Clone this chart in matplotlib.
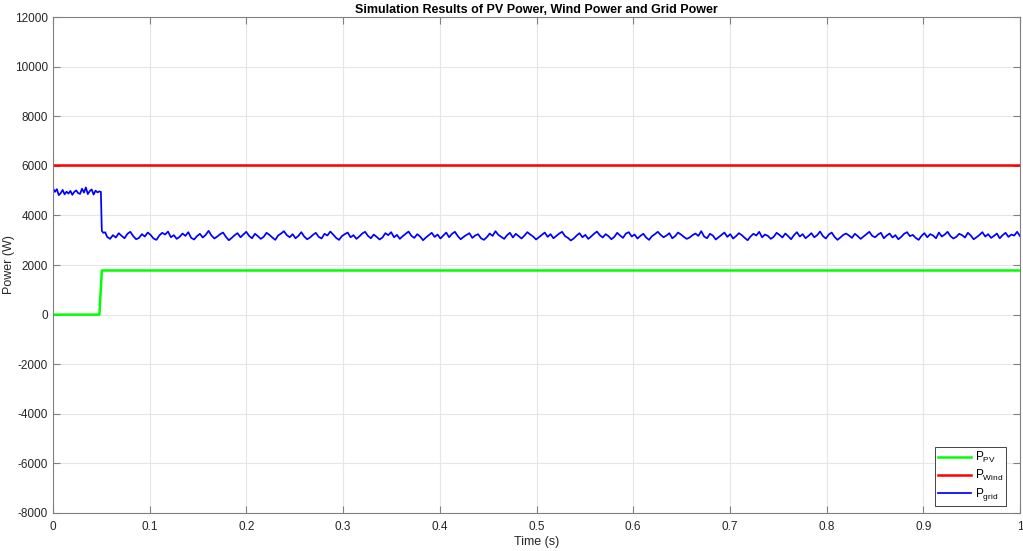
import matplotlib
matplotlib.use('Agg')
import matplotlib.pyplot as plt
import numpy as np

plt.rcParams['font.family'] = ['Liberation Sans', 'DejaVu Sans']
plt.rcParams['axes.unicode_minus'] = False

# PV power: off until ~0.048 s, then step up
pv_t = [0.0, 0.048, 0.0505, 1.0]
pv_p = [0, 0, 1780, 1780]

# wind power constant
wind_t = [0.0, 1.0]
wind_p = [6030, 6030]

# grid power before the PV step (every 2 ms)
grid_pre = [5100, 4950, 5060, 4820, 4900, 5030, 4850, 4960, 4880, 4990,
            4830, 4950, 5010, 4900, 4870, 5080, 4920, 5130, 4860, 4980,
            5050, 4840, 5000, 4930, 4970]
# transition right after the step
grid_step_t = [0.0495, 0.0505, 0.052, 0.054]
grid_step = [4950, 3380, 3300, 3320]
# after the step (0.056 s .. 1 s, evenly spaced)
grid_post = [3135, 3055, 3205, 3110, 3285, 3175, 3080, 3260, 3340, 3165,
             3040, 3095, 3245, 3150, 3310, 3215, 3070, 3015, 3190, 3300,
             3230, 3350, 3120, 3205, 3055, 3135, 3270, 3175, 3325, 3095,
             3030, 3165, 3260, 3110, 3215, 3380, 3190, 3070, 3150, 3245,
             3310, 3135, 3000, 3095, 3205, 3285, 3120, 3230, 3340, 3175,
             3080, 3260, 3165, 3055, 3135, 3300, 3215, 3110, 3015, 3190,
             3270, 3365, 3205, 3120, 3245, 3080, 3175, 3325, 3150, 3040,
             3110, 3215, 3300, 3135, 3070, 3260, 3190, 3350, 3230, 3095,
             3015, 3165, 3245, 3310, 3120, 3205, 3055, 3150, 3270, 3340,
             3175, 3080, 3230, 3135, 3030, 3110, 3285, 3205, 3325, 3120,
             3215, 3055, 3165, 3260, 3350, 3175, 3095, 3245, 3150, 3000,
             3110, 3205, 3300, 3135, 3230, 3070, 3190, 3310, 3120, 3260,
             3340, 3165, 3040, 3135, 3215, 3285, 3095, 3190, 3245, 3080,
             3015, 3120, 3270, 3175, 3365, 3215, 3135, 3055, 3205, 3300,
             3110, 3260, 3165, 3070, 3190, 3325, 3230, 3150, 3030, 3120,
             3215, 3310, 3135, 3245, 3080, 3175, 3270, 3340, 3165, 3095,
             2990, 3070, 3190, 3285, 3120, 3215, 3055, 3150, 3260, 3350,
             3205, 3110, 3245, 3165, 3040, 3135, 3300, 3190, 3095, 3270,
             3325, 3150, 3230, 3070, 3175, 3260, 3110, 3015, 3165, 3245,
             3340, 3215, 3120, 3190, 3285, 3080, 3165, 3310, 3230, 3135,
             3055, 3110, 3205, 3270, 3175, 3365, 3150, 3080, 3260, 3190,
             3030, 3120, 3215, 3310, 3135, 3245, 3070, 3165, 3285, 3205,
             3095, 3000, 3150, 3260, 3190, 3340, 3120, 3230, 3175, 3055,
             3135, 3300, 3215, 3110, 3270, 3165, 3040, 3205, 3325, 3150,
             3245, 3080, 3175, 3285, 3120, 3205, 3350, 3165, 3070, 3230,
             3310, 3135, 3015, 3110, 3215, 3270, 3190, 3095, 3260, 3165,
             3055, 3150, 3245, 3340, 3175, 3120, 3230, 3300, 3080, 3190,
             3270, 3110, 3205, 3040, 3135, 3260, 3325, 3165, 3215, 3095,
             3015, 3175, 3285, 3120, 3245, 3190, 3080, 3310, 3150, 3230,
             3340, 3165, 3070, 3135, 3260, 3205, 3110, 3300, 3190, 3040,
             3120, 3215, 3325, 3150, 3245, 3095, 3175, 3270, 3080, 3205,
             3300, 3135, 3230, 3190, 3340, 3165]

xticks = [0, 0.1, 0.2, 0.3, 0.4, 0.5, 0.6, 0.7, 0.8, 0.9, 1]
xticklabels = ['0', '0.1', '0.2', '0.3', '0.4', '0.5', '0.6', '0.7', '0.8', '0.9', '1']
yticks = list(range(-8000, 12001, 2000))


def render():
    t_pre = np.arange(len(grid_pre)) * 0.002
    t_post = np.linspace(0.056, 1.0, len(grid_post))
    grid_t = np.concatenate([t_pre, grid_step_t, t_post])
    grid_p = np.concatenate([grid_pre, grid_step, grid_post])

    fig = plt.figure(figsize=(10.23, 5.51), dpi=100)
    ax = fig.add_axes([0.0518, 0.069, 0.9453, 0.900])

    ax.plot(pv_t, pv_p, color='#00ff00', lw=1.8, label=r'$\mathregular{P_{PV}}$')
    ax.plot(wind_t, wind_p, color='#ff0000', lw=1.8, label=r'$\mathregular{P_{Wind}}$')
    ax.plot(grid_t, grid_p, color='#0000ff', lw=1.25, label=r'$\mathregular{P_{grid}}$')

    ax.set_xlim(0, 1)
    ax.set_ylim(-8000, 12000)
    ax.set_xticks(xticks)
    ax.set_xticklabels(xticklabels)
    ax.set_yticks(yticks)
    ax.grid(True, color='#e6e6e6', lw=0.8)
    ax.set_axisbelow(True)
    for s in ax.spines.values():
        s.set_color('#808080')
        s.set_linewidth(0.8)
    ax.tick_params(direction='in', length=5, width=0.8, color='#808080',
                   labelsize=8.5, labelcolor='#262626', top=True, right=True)
    ax.tick_params(axis='x', pad=6)

    ax.set_xlabel('Time (s)', fontsize=9, color='#262626', labelpad=2)
    ax.set_ylabel('Power (W)', fontsize=9, color='#262626', labelpad=0)
    ax.set_title('Simulation Results of PV Power, Wind Power and Grid Power',
                 fontsize=9, fontweight='bold', pad=3)

    leg = ax.legend(loc='lower right', bbox_to_anchor=(0.9855, 0.014),
                    borderaxespad=0, fontsize=8.5, fancybox=False, framealpha=1,
                    edgecolor='#262626', handlelength=2.8, handletextpad=0.3,
                    borderpad=0.25, labelspacing=0.25)
    leg.get_frame().set_linewidth(0.6)

    fig.savefig('out.png', dpi=100)


if __name__ == '__main__':
    render()
